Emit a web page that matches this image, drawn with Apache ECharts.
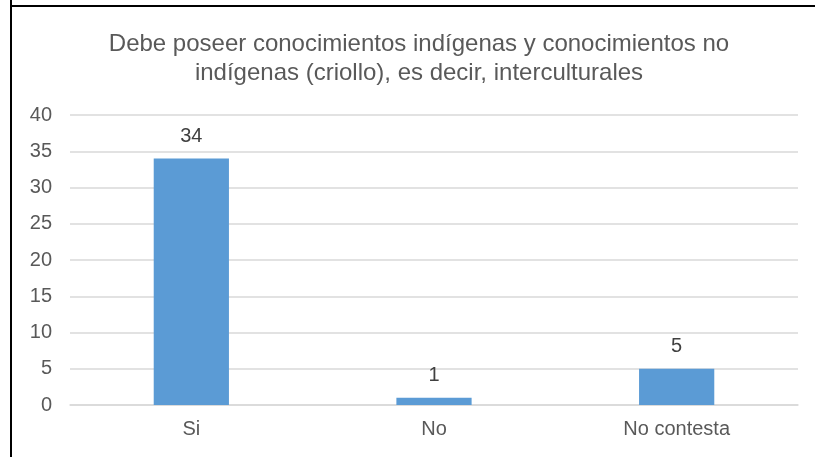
<!DOCTYPE html>
<html>
<head>
<meta charset="utf-8">
<script src="https://cdn.jsdelivr.net/npm/echarts@6/dist/echarts.min.js"></script>
<style>
  html, body { margin: 0; padding: 0; background: #fff; }
  #main { width: 815px; height: 457px; }
</style>
</head>
<body>
<div id="main"></div>
<script>
var categories = ['Si', 'No', 'No contesta'];
var values = [34, 1, 5];

var chart = echarts.init(document.getElementById('main'));
var option = {
    backgroundColor: '#fff',
    animation: false,
    title: {
        text: 'Debe poseer conocimientos indígenas y conocimientos no\nindígenas (criollo), es decir, interculturales',
        left: 414,
        top: 25,
        textAlign: 'center',
        textStyle: {
            fontFamily: 'Liberation Sans, Arial',
            fontSize: 24,
            fontWeight: 'normal',
            color: '#595959',
            lineHeight: 29
        }
    },
    graphic: [
        { type: 'line', shape: { x1: 11, y1: 0, x2: 11, y2: 457 }, style: { stroke: '#000', lineWidth: 2 } },
        { type: 'line', shape: { x1: 10, y1: 6, x2: 815, y2: 6 }, style: { stroke: '#000', lineWidth: 2 } }
    ],
    grid: { left: 70, right: 17, top: 115, bottom: 52 },
    xAxis: {
        type: 'category',
        data: categories,
        axisLine: { lineStyle: { color: '#d9d9d9', width: 1.5 } },
        axisTick: { show: false },
        axisLabel: {
            fontFamily: 'Liberation Sans, Arial',
            fontSize: 20,
            color: '#595959',
            margin: 14
        }
    },
    yAxis: {
        type: 'value',
        min: 0,
        max: 40,
        interval: 5,
        axisLine: { show: false },
        axisTick: { show: false },
        splitLine: { lineStyle: { color: '#d9d9d9', width: 1.5 } },
        axisLabel: {
            fontFamily: 'Liberation Sans, Arial',
            fontSize: 20,
            color: '#595959',
            margin: 18
        }
    },
    series: [{
        type: 'bar',
        data: values,
        barWidth: '31%',
        itemStyle: { color: '#5b9bd5' },
        label: {
            show: true,
            position: 'top',
            distance: 12,
            fontFamily: 'Liberation Sans, Arial',
            fontSize: 20,
            color: '#404040'
        }
    }]
};
chart.setOption(option);
</script>
</body>
</html>
